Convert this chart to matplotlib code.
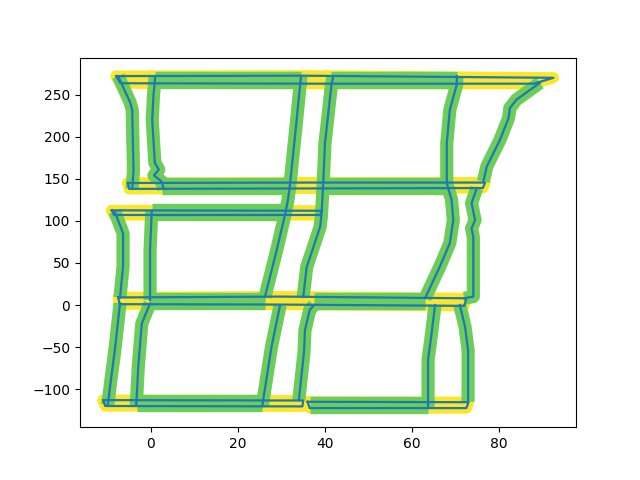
import matplotlib
matplotlib.use('Agg')
import matplotlib.pyplot as plt

YELLOW = '#fde725'
GREEN = '#6ccd5a'
BLUE = '#1f77b4'

# ---- horizontal wall outlines (closed thin loops) ----
h1_x = [-8, 35, 92.5, 88, 41, -7, -8]
h1_y = [272, 272.5, 270, 263, 263, 263.5, 272]
h2_x = [-5.3, 35, 76.8, 76.3, 35, -5, -5.3]
h2_y = [145, 145.5, 145.5, 139, 138.5, 138, 145]
h3_x = [-9, 39.3, 39, -8.5, -9]
h3_y = [112.5, 112, 107, 107, 112.5]
h4_x = [-7.5, 30, 72.5, 72, 30, -7.2, -7.5]
h4_y = [9, 10, 8, -1, 0.5, 1, 9]
h5a_x = [-11, 35, 34.8, -10.5, -11]
h5a_y = [-113, -113.5, -120.5, -120, -113]
h5b_x = [36, 73, 72.5, 36.5, 36]
h5b_y = [-115, -115.5, -122.5, -122.5, -115]

# ---- vertical / slanted walls ----
v1_x = [-7.5, -7, -4.8, -4.3, -4, -4.3]
v1_y = [272, 266, 241, 232, 160, 138]
v2_x = [1, 0.6, 0.3, 0.9, 1.8, 0.7, 2.4, 3]
v2_y = [272, 250, 220, 169, 161, 154, 147, 138]
v3a_x = [34.5, 34.3, 33.5, 32.5, 32, 31.5, 30.8, 28.9, 27, 26.2]
v3a_y = [272, 262, 220, 170, 145, 125, 107, 65, 26, 9.5]
v3b_x = [29.7, 27.7, 25.8, 25.6]
v3b_y = [0, -50, -113, -120]
v4a_x = [41.9, 41.5, 40, 39.6, 39.4, 39.2, 38.9, 35.8, 35]
v4a_y = [272, 262, 192, 145, 125, 107, 93, 45, 9.5]
v4b_x = [37.5, 36.5, 35.4, 35.2, 34]
v4b_y = [0, -6, -30, -55, -113]
v5a_x = [70.3, 70.3, 68.7, 68, 68, 69.1, 69.5, 68.7, 66.4, 63]
v5a_y = [272, 262, 232, 192, 145, 125, 101, 73.5, 45.6, 8]
v5b_x = [65.3, 64.5, 63.7, 63.7, 63.7]
v5b_y = [0, -34, -65, -113, -122]
v6_x = [89.4, 84, 82.5, 82.2, 80.2, 77.2, 76.4]
v6_y = [264, 244, 234, 222, 196, 164.6, 146.8]
v7_x = [74.9, 73.7, 74.5, 73.7, 74.1, 74.1, 72]
v7_y = [139, 121, 101, 91, 81, 10, 8]
v8_x = [71, 72.2, 72.9, 72.9]
v8_y = [0, -26, -54, -115]
v9_x = [-8.3, -6.4, -6.4, -7.1]
v9_y = [111, 85, 46, 9]
v10_x = [0.2, -0.2, -0.2]
v10_y = [112, 65, 6]
v11_x = [-7.1, -8.3, -9.4, -9.8, -10]
v11_y = [2, -54, -97, -115, -119]
v12_x = [-0.2, -2.1, -2.9, -3.3, -3.4]
v12_y = [2, -22, -73, -113, -119]

# ---- room spans along walls (centre y, start x, end x) ----
span_y = [267.75, 267.5, 141.5, 141.5, 110, 5, 5, -116.5, -119]
span_x0 = [1, 41.5, 2.5, 39.6, 0.2, -0.2, 37.5, -3.3, 36.5]
span_x1 = [34.5, 70.3, 32, 68, 31, 26.2, 63, 25.6, 63.7]

walls = [(h1_x, h1_y), (h2_x, h2_y), (h3_x, h3_y), (h4_x, h4_y),
         (h5a_x, h5a_y), (h5b_x, h5b_y)]
verticals = [(v1_x, v1_y), (v2_x, v2_y), (v3a_x, v3a_y), (v3b_x, v3b_y),
             (v4a_x, v4a_y), (v4b_x, v4b_y), (v5a_x, v5a_y), (v5b_x, v5b_y),
             (v6_x, v6_y), (v7_x, v7_y), (v8_x, v8_y), (v9_x, v9_y),
             (v10_x, v10_y), (v11_x, v11_y), (v12_x, v12_y)]

fig, ax = plt.subplots(figsize=(6.4, 4.8), dpi=100)

for wx, wy in walls:
    ax.plot(wx, wy, color=YELLOW, lw=8, solid_joinstyle='round',
            solid_capstyle='round', zorder=1)

for sy, a, b in zip(span_y, span_x0, span_x1):
    ax.plot([a, b], [sy, sy], color=GREEN, lw=12.5, solid_capstyle='butt', zorder=2)

for vx, vy in verticals:
    ax.plot(vx, vy, color=GREEN, lw=9.5, solid_joinstyle='round',
            solid_capstyle='butt', zorder=2)

for wx, wy in walls:
    ax.plot(wx, wy, color=BLUE, lw=1.6, zorder=3)
for vx, vy in verticals:
    ax.plot(vx, vy, color=BLUE, lw=1.6, zorder=3)

ax.set_xlim(-16.3, 97.7)
ax.set_ylim(-145.2, 294)

fig.savefig('out.png', dpi=100)
